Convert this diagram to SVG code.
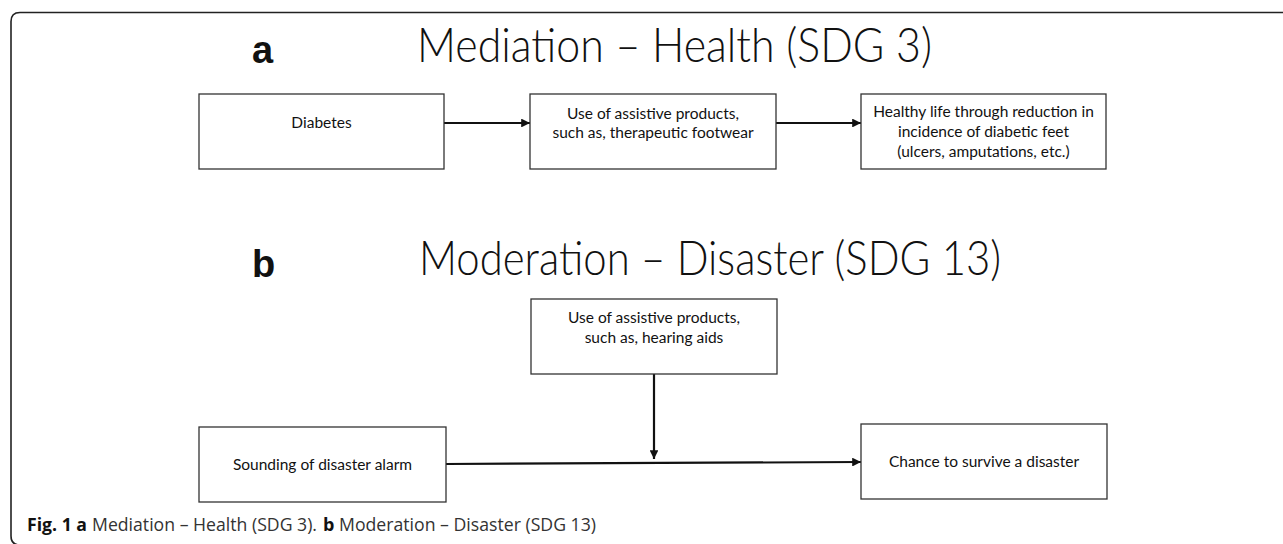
<svg xmlns="http://www.w3.org/2000/svg" width="1283" height="544" viewBox="0 0 1283 544">
  <style>
    .frame{fill:none;stroke:#222;stroke-width:1.6}
    .box{fill:#fff;stroke:#333;stroke-width:1.3}
    .t{font-family:Lato,"Open Sans","Liberation Sans",sans-serif;font-size:15.5px;fill:#111;text-anchor:middle}
    .lbl{font-family:"Liberation Sans",Arial,sans-serif;font-weight:bold;font-size:38px;fill:#111}
    .title{font-family:Lato,"Open Sans",sans-serif;font-weight:300;font-size:48px;fill:#111}
    .cap{font-family:"Open Sans","Liberation Sans",sans-serif;font-size:18px;fill:#333}
    .capb{font-family:"Open Sans","Liberation Sans",sans-serif;font-size:18px;font-weight:bold;fill:#111}
    .conn{stroke:#111;stroke-width:2.2;fill:none}
  </style>
  <defs>
    <marker id="ah" viewBox="0 0 10 10" refX="10" refY="5" markerWidth="4" markerHeight="4" orient="auto" markerUnits="strokeWidth">
      <path d="M0,0 L10,5 L0,10 z" fill="#111"/>
    </marker>
  </defs>
  <rect width="1283" height="544" fill="#fff"/>
  <path class="frame" d="M1290,12.5 H20 Q11,12.5 11,21.5 V536 Q11,545 20,545"/>

  <text class="lbl" x="252" y="63">a</text>
  <text class="title" x="417" y="62" textLength="515" lengthAdjust="spacingAndGlyphs">Mediation – Health (SDG 3)</text>
  <text class="lbl" x="252" y="277">b</text>
  <text class="title" x="419" y="275" textLength="582" lengthAdjust="spacingAndGlyphs">Moderation – Disaster (SDG 13)</text>

  <g id="connectors">
    <line class="conn" x1="444" y1="123" x2="530" y2="123" marker-end="url(#ah)"/>
    <line class="conn" x1="776" y1="123" x2="861" y2="123" marker-end="url(#ah)"/>
    <line class="conn" x1="654" y1="374" x2="654" y2="459" marker-end="url(#ah)"/>
    <line class="conn" x1="446" y1="464" x2="861" y2="462" marker-end="url(#ah)"/>
  </g>

  <g id="diabetes">
    <rect class="box" x="199" y="94" width="245" height="75"/>
    <text class="t" x="321.5" y="128">Diabetes</text>
  </g>
  <g id="assistive-footwear">
    <rect class="box" x="530" y="94" width="246" height="75"/>
    <text class="t" x="653" y="119">Use of assistive products,</text>
    <text class="t" x="653" y="138">such as, therapeutic footwear</text>
  </g>
  <g id="healthy-life">
    <rect class="box" x="861" y="94" width="245" height="75"/>
    <text class="t" x="983.5" y="117">Healthy life through reduction in</text>
    <text class="t" x="983.5" y="137">incidence of diabetic feet</text>
    <text class="t" x="983.5" y="157">(ulcers, amputations, etc.)</text>
  </g>

  <g id="hearing-aids">
    <rect class="box" x="531" y="299" width="246" height="75"/>
    <text class="t" x="654" y="323">Use of assistive products,</text>
    <text class="t" x="654" y="343">such as, hearing aids</text>
  </g>
  <g id="alarm">
    <rect class="box" x="199" y="427" width="247" height="75"/>
    <text class="t" x="322.5" y="470">Sounding of disaster alarm</text>
  </g>
  <g id="survive">
    <rect class="box" x="861" y="424" width="246" height="75"/>
    <text class="t" x="984" y="467">Chance to survive a disaster</text>
  </g>

  <g id="caption">
    <text class="capb" x="27" y="531" textLength="60" lengthAdjust="spacingAndGlyphs">Fig. 1 a</text>
    <text class="cap" x="92" y="531" textLength="225" lengthAdjust="spacingAndGlyphs">Mediation – Health (SDG 3).</text>
    <text class="capb" x="323" y="531">b</text>
    <text class="cap" x="339" y="531" textLength="257" lengthAdjust="spacingAndGlyphs">Moderation – Disaster (SDG 13)</text>
  </g>
</svg>
